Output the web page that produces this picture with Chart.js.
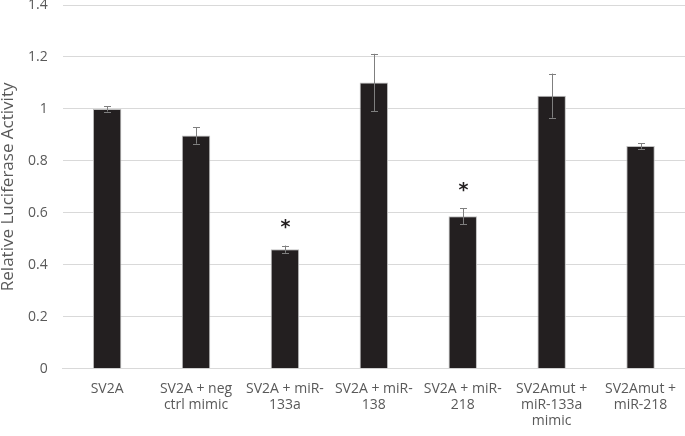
<!DOCTYPE html>
<html>
<head>
<meta charset="utf-8">
<script src="https://cdn.jsdelivr.net/npm/chart.js@4/dist/chart.umd.min.js"></script>
<style>
  html, body { margin: 0; padding: 0; background: #fff; }
  #wrap { width: 685px; height: 436px; }
</style>
</head>
<body>
<div id="wrap"><canvas id="chart"></canvas></div>
<script>
const categories = [
  ["SV2A"],
  ["SV2A + neg", "ctrl mimic"],
  ["SV2A + miR-", "133a"],
  ["SV2A + miR-", "138"],
  ["SV2A + miR-", "218"],
  ["SV2Amut +", "miR-133a", "mimic"],
  ["SV2Amut +", "miR-218"]
];
const values = [1.0, 0.898, 0.46, 1.102, 0.587, 1.051, 0.857];
const errors = [0.01, 0.032, 0.014, 0.11, 0.03, 0.085, 0.01];
const starred = [false, false, true, false, true, false, false];
const yTicks = [0, 0.2, 0.4, 0.6, 0.8, 1, 1.2, 1.4];

// error bars + significance stars, positioned through the scales
const errorBars = {
  id: "errorBars",
  afterDatasetsDraw(chart) {
    const ctx = chart.ctx;
    const x = chart.scales.x;
    const y = chart.scales.y;
    ctx.save();
    ctx.strokeStyle = "#7f7f7f";
    ctx.lineWidth = 1;
    values.forEach((v, i) => {
      const cx = Math.round(x.getPixelForValue(i)) + 0.5;
      const top = y.getPixelForValue(v + errors[i]);
      const bot = y.getPixelForValue(v - errors[i]);
      ctx.beginPath();
      ctx.moveTo(cx, top);
      ctx.lineTo(cx, bot);
      ctx.moveTo(cx - 3.5, Math.round(top) + 0.5);
      ctx.lineTo(cx + 3.5, Math.round(top) + 0.5);
      ctx.moveTo(cx - 3.5, Math.round(bot) + 0.5);
      ctx.lineTo(cx + 3.5, Math.round(bot) + 0.5);
      ctx.stroke();
      if (starred[i]) {
        ctx.fillStyle = "#231f20";
        ctx.font = "bold 19px 'DejaVu Sans', sans-serif";
        ctx.textAlign = "center";
        ctx.textBaseline = "middle";
        ctx.fillText("*", cx, top - 17);
      }
    });
    ctx.restore();
  }
};

new Chart(document.getElementById("chart"), {
  type: "bar",
  data: {
    labels: categories,
    datasets: [
      {
        data: values,
        backgroundColor: "#231f20",
        borderColor: "#bfbfbf",
        borderWidth: 1,
        categoryPercentage: 1,
        barPercentage: 0.32
      }
    ]
  },
  options: {
    responsive: true,
    maintainAspectRatio: false,
    animation: false,
    layout: { padding: { left: 0, right: 0, top: 5, bottom: 3 } },
    plugins: {
      legend: { display: false },
      tooltip: { enabled: false }
    },
    scales: {
      x: {
        grid: { display: false },
        border: { color: "#d9d9d9" },
        ticks: {
          color: "#595959",
          font: { family: "'Open Sans', sans-serif", size: 14, lineHeight: 1.15 },
          maxRotation: 0,
          autoSkip: false,
          padding: 4
        }
      },
      y: {
        min: 0,
        max: 1.4,
        afterBuildTicks: (axis) => {
          axis.ticks = yTicks.map((v) => ({ value: v }));
        },
        afterFit: (axis) => {
          axis.paddingTop = 0;
        },
        grid: { color: "#d9d9d9", drawTicks: false },
        border: { display: false },
        ticks: {
          color: "#595959",
          font: { family: "'Open Sans', sans-serif", size: 14 },
          padding: 15,
          callback: (v) => String(+v.toFixed(1))
        },
        title: {
          display: true,
          text: "Relative Luciferase Activity",
          color: "#595959",
          font: { family: "'Open Sans', sans-serif", size: 17, lineHeight: 1 },
          padding: { top: 0, bottom: -4 }
        }
      }
    }
  },
  plugins: [errorBars]
});
</script>
</body>
</html>
